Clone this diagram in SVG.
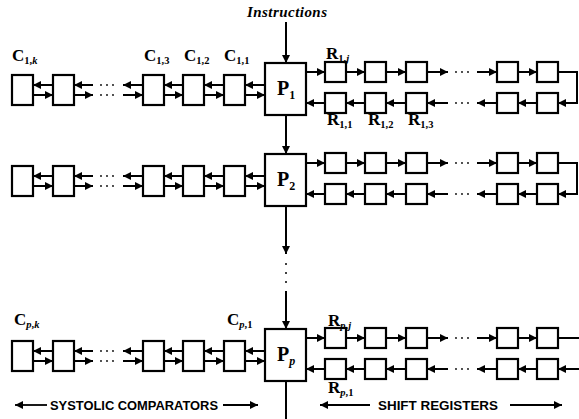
<svg xmlns="http://www.w3.org/2000/svg" width="579" height="419" viewBox="0 0 579 419">
<style>
.box{fill:#fff;stroke:#000;stroke-width:2.2}
.ln{fill:none;stroke:#000;stroke-width:2}
.ar{fill:none;stroke:#000;stroke-width:2;marker-end:url(#ah)}
.ar2{fill:none;stroke:#000;stroke-width:1.8;marker-end:url(#ah2)}
.lbl{font-family:"Liberation Serif","Times New Roman",serif;font-weight:bold;font-size:17px;fill:#000}
.sub{font-size:10.5px}
.pl{font-family:"Liberation Serif","Times New Roman",serif;font-weight:bold;font-size:20px;fill:#000}
.ps{font-size:12px}
.cap{font-family:"Liberation Sans",Arial,sans-serif;font-weight:bold;font-size:12.5px;fill:#000}
.dot{fill:#000}
</style>
<defs>
<marker id="ah" viewBox="0 0 10 10" refX="10" refY="5" markerWidth="9" markerHeight="8" markerUnits="userSpaceOnUse" orient="auto"><path d="M0,0L10,5L0,10z" fill="#000"/></marker>
<marker id="ah2" viewBox="0 0 10 10" refX="10" refY="5" markerWidth="12" markerHeight="8" markerUnits="userSpaceOnUse" orient="auto"><path d="M0,0L10,5L0,10z" fill="#000"/></marker>
</defs>
<rect width="579" height="419" fill="#fff"/>

<text x="247" y="17" font-family="Liberation Serif,serif" font-weight="bold" font-style="italic" font-size="15" textLength="80">Instructions</text>

<!-- Row 1 nodes -->
<g id="P1"><rect class="box" x="265" y="63" width="41" height="52"/><text class="pl" x="277" y="95">P<tspan class="ps" dy="4">1</tspan></text></g>
<g id="C1k"><rect class="box" x="12" y="75" width="21" height="30"/><text class="lbl" x="12" y="61">C<tspan class="sub" dy="3">1,<tspan font-style="italic">k</tspan></tspan></text></g>
<g id="C1k-1"><rect class="box" x="53" y="75" width="21" height="30"/></g>
<g id="C13"><rect class="box" x="143" y="75" width="21" height="30"/><text class="lbl" x="144" y="61">C<tspan class="sub" dy="3">1,3</tspan></text></g>
<g id="C12"><rect class="box" x="183" y="75" width="21" height="30"/><text class="lbl" x="184" y="61">C<tspan class="sub" dy="3">1,2</tspan></text></g>
<g id="C11"><rect class="box" x="224" y="75" width="21" height="30"/><text class="lbl" x="224" y="61">C<tspan class="sub" dy="3">1,1</tspan></text></g>
<g id="R1t1"><rect class="box" x="325" y="62" width="21" height="20"/><text class="lbl" x="326" y="59">R<tspan class="sub" dy="3">1,<tspan font-style="italic">j</tspan></tspan></text></g>
<g id="R1t2"><rect class="box" x="365" y="62" width="21" height="20"/></g>
<g id="R1t3"><rect class="box" x="406" y="62" width="21" height="20"/></g>
<g id="R1t4"><rect class="box" x="497" y="62" width="21" height="20"/></g>
<g id="R1t5"><rect class="box" x="537" y="62" width="21" height="20"/></g>
<g id="R11"><rect class="box" x="325" y="93" width="21" height="20"/><text class="lbl" x="327" y="125">R<tspan class="sub" dy="3">1,1</tspan></text></g>
<g id="R12"><rect class="box" x="365" y="93" width="21" height="20"/><text class="lbl" x="368" y="125">R<tspan class="sub" dy="3">1,2</tspan></text></g>
<g id="R13"><rect class="box" x="406" y="93" width="21" height="20"/><text class="lbl" x="408" y="125">R<tspan class="sub" dy="3">1,3</tspan></text></g>
<g id="R1b4"><rect class="box" x="497" y="93" width="21" height="20"/></g>
<g id="R1b5"><rect class="box" x="537" y="93" width="21" height="20"/></g>

<!-- Row 2 nodes -->
<g id="P2"><rect class="box" x="265" y="154" width="41" height="52"/><text class="pl" x="277" y="186">P<tspan class="ps" dy="4">2</tspan></text></g>
<g id="C2a"><rect class="box" x="12" y="166" width="21" height="30"/></g>
<g id="C2b"><rect class="box" x="53" y="166" width="21" height="30"/></g>
<g id="C2c"><rect class="box" x="143" y="166" width="21" height="30"/></g>
<g id="C2d"><rect class="box" x="183" y="166" width="21" height="30"/></g>
<g id="C2e"><rect class="box" x="224" y="166" width="21" height="30"/></g>
<g id="R2t1"><rect class="box" x="325" y="153" width="21" height="20"/></g>
<g id="R2t2"><rect class="box" x="365" y="153" width="21" height="20"/></g>
<g id="R2t3"><rect class="box" x="406" y="153" width="21" height="20"/></g>
<g id="R2t4"><rect class="box" x="497" y="153" width="21" height="20"/></g>
<g id="R2t5"><rect class="box" x="537" y="153" width="21" height="20"/></g>
<g id="R2b1"><rect class="box" x="325" y="184" width="21" height="20"/></g>
<g id="R2b2"><rect class="box" x="365" y="184" width="21" height="20"/></g>
<g id="R2b3"><rect class="box" x="406" y="184" width="21" height="20"/></g>
<g id="R2b4"><rect class="box" x="497" y="184" width="21" height="20"/></g>
<g id="R2b5"><rect class="box" x="537" y="184" width="21" height="20"/></g>

<!-- Row p nodes -->
<g id="Pp"><rect class="box" x="265" y="329" width="41" height="52"/><text class="pl" x="277" y="361">P<tspan class="ps" dy="4" font-style="italic">p</tspan></text></g>
<g id="Cpk"><rect class="box" x="12" y="341" width="21" height="30"/><text class="lbl" x="14" y="325">C<tspan class="sub" dy="3"><tspan font-style="italic">p</tspan>,<tspan font-style="italic">k</tspan></tspan></text></g>
<g id="Cpb"><rect class="box" x="53" y="341" width="21" height="30"/></g>
<g id="Cpc"><rect class="box" x="143" y="341" width="21" height="30"/></g>
<g id="Cpd"><rect class="box" x="183" y="341" width="21" height="30"/></g>
<g id="Cp1"><rect class="box" x="224" y="341" width="21" height="30"/><text class="lbl" x="227" y="325">C<tspan class="sub" dy="3"><tspan font-style="italic">p</tspan>,1</tspan></text></g>
<g id="Rpt1"><rect class="box" x="325" y="328" width="21" height="20"/><text class="lbl" x="328" y="326">R<tspan class="sub" dy="3"><tspan font-style="italic">p</tspan>,<tspan font-style="italic">j</tspan></tspan></text></g>
<g id="Rpt2"><rect class="box" x="365" y="328" width="21" height="20"/></g>
<g id="Rpt3"><rect class="box" x="406" y="328" width="21" height="20"/></g>
<g id="Rpt4"><rect class="box" x="497" y="328" width="21" height="20"/></g>
<g id="Rpt5"><rect class="box" x="537" y="328" width="21" height="20"/></g>
<g id="Rp1"><rect class="box" x="325" y="359" width="21" height="20"/><text class="lbl" x="328" y="393">R<tspan class="sub" dy="3"><tspan font-style="italic">p</tspan>,1</tspan></text></g>
<g id="Rpb2"><rect class="box" x="365" y="359" width="21" height="20"/></g>
<g id="Rpb3"><rect class="box" x="406" y="359" width="21" height="20"/></g>
<g id="Rpb4"><rect class="box" x="497" y="359" width="21" height="20"/></g>
<g id="Rpb5"><rect class="box" x="537" y="359" width="21" height="20"/></g>

<g id="connectors">
<!-- vertical -->
<path class="ar" d="M286,22L286,63"/>
<path class="ar" d="M286,115L286,154"/>
<path class="ar" d="M286,206L286,254"/>
<circle class="dot" cx="286" cy="264" r="1"/><circle class="dot" cx="286" cy="273" r="1"/><circle class="dot" cx="286" cy="282" r="1"/>
<path class="ar" d="M286,291L286,329"/>
<path class="ln" d="M286,381L286,419"/>

<!-- comparators row 1 -->
<path class="ar" d="M53,85L33,85"/><path class="ar" d="M33,95L53,95"/>
<path class="ar" d="M93,85L74,85"/><path class="ar" d="M74,95L93,95"/>
<path class="ar" d="M143,85L123,85"/><path class="ar" d="M123,95L143,95"/>
<path class="ar" d="M183,85L164,85"/><path class="ar" d="M164,95L183,95"/>
<path class="ar" d="M224,85L204,85"/><path class="ar" d="M204,95L224,95"/>
<path class="ar" d="M265,85L245,85"/><path class="ar" d="M245,95L265,95"/>
<!-- comparators row 2 -->
<path class="ar" d="M53,176L33,176"/><path class="ar" d="M33,186L53,186"/>
<path class="ar" d="M93,176L74,176"/><path class="ar" d="M74,186L93,186"/>
<path class="ar" d="M143,176L123,176"/><path class="ar" d="M123,186L143,186"/>
<path class="ar" d="M183,176L164,176"/><path class="ar" d="M164,186L183,186"/>
<path class="ar" d="M224,176L204,176"/><path class="ar" d="M204,186L224,186"/>
<path class="ar" d="M265,176L245,176"/><path class="ar" d="M245,186L265,186"/>
<!-- comparators row p -->
<path class="ar" d="M53,351L33,351"/><path class="ar" d="M33,361L53,361"/>
<path class="ar" d="M93,351L74,351"/><path class="ar" d="M74,361L93,361"/>
<path class="ar" d="M143,351L123,351"/><path class="ar" d="M123,361L143,361"/>
<path class="ar" d="M183,351L164,351"/><path class="ar" d="M164,361L183,361"/>
<path class="ar" d="M224,351L204,351"/><path class="ar" d="M204,361L224,361"/>
<path class="ar" d="M265,351L245,351"/><path class="ar" d="M245,361L265,361"/>
<!-- comparator dots -->
<g class="dot">
<circle cx="101" cy="85" r="0.9"/><circle cx="107" cy="85" r="0.9"/><circle cx="113" cy="85" r="0.9"/>
<circle cx="101" cy="95" r="0.9"/><circle cx="107" cy="95" r="0.9"/><circle cx="113" cy="95" r="0.9"/>
<circle cx="101" cy="176" r="0.9"/><circle cx="107" cy="176" r="0.9"/><circle cx="113" cy="176" r="0.9"/>
<circle cx="101" cy="186" r="0.9"/><circle cx="107" cy="186" r="0.9"/><circle cx="113" cy="186" r="0.9"/>
<circle cx="101" cy="351" r="0.9"/><circle cx="107" cy="351" r="0.9"/><circle cx="113" cy="351" r="0.9"/>
<circle cx="101" cy="361" r="0.9"/><circle cx="107" cy="361" r="0.9"/><circle cx="113" cy="361" r="0.9"/>
</g>

<!-- registers row 1 -->
<path class="ar" d="M306,72L325,72"/><path class="ar" d="M346,72L365,72"/><path class="ar" d="M386,72L406,72"/>
<path class="ar" d="M427,72L448,72"/><path class="ar" d="M477,72L497,72"/><path class="ar" d="M518,72L537,72"/>
<path class="ar" d="M325,103L306,103"/><path class="ar" d="M365,103L346,103"/><path class="ar" d="M406,103L386,103"/>
<path class="ar" d="M448,103L427,103"/><path class="ar" d="M497,103L477,103"/><path class="ar" d="M537,103L518,103"/>
<path class="ar" d="M558,72L577,72L577,103L558,103"/>
<!-- registers row 2 -->
<path class="ar" d="M306,163L325,163"/><path class="ar" d="M346,163L365,163"/><path class="ar" d="M386,163L406,163"/>
<path class="ar" d="M427,163L448,163"/><path class="ar" d="M477,163L497,163"/><path class="ar" d="M518,163L537,163"/>
<path class="ar" d="M325,194L306,194"/><path class="ar" d="M365,194L346,194"/><path class="ar" d="M406,194L386,194"/>
<path class="ar" d="M448,194L427,194"/><path class="ar" d="M497,194L477,194"/><path class="ar" d="M537,194L518,194"/>
<path class="ar" d="M558,163L577,163L577,194L558,194"/>
<!-- registers row p -->
<path class="ar" d="M306,338L325,338"/><path class="ar" d="M346,338L365,338"/><path class="ar" d="M386,338L406,338"/>
<path class="ar" d="M427,338L448,338"/><path class="ar" d="M477,338L497,338"/><path class="ar" d="M518,338L537,338"/>
<path class="ar" d="M325,369L306,369"/><path class="ar" d="M365,369L346,369"/><path class="ar" d="M406,369L386,369"/>
<path class="ar" d="M448,369L427,369"/><path class="ar" d="M497,369L477,369"/><path class="ar" d="M537,369L518,369"/>
<path class="ln" d="M558,338L579,338"/><path class="ar" d="M579,369L558,369"/>
<!-- register dots -->
<g class="dot">
<circle cx="456" cy="72" r="0.9"/><circle cx="462" cy="72" r="0.9"/><circle cx="468" cy="72" r="0.9"/>
<circle cx="456" cy="103" r="0.9"/><circle cx="462" cy="103" r="0.9"/><circle cx="468" cy="103" r="0.9"/>
<circle cx="456" cy="163" r="0.9"/><circle cx="462" cy="163" r="0.9"/><circle cx="468" cy="163" r="0.9"/>
<circle cx="456" cy="194" r="0.9"/><circle cx="462" cy="194" r="0.9"/><circle cx="468" cy="194" r="0.9"/>
<circle cx="456" cy="338" r="0.9"/><circle cx="462" cy="338" r="0.9"/><circle cx="468" cy="338" r="0.9"/>
<circle cx="456" cy="369" r="0.9"/><circle cx="462" cy="369" r="0.9"/><circle cx="468" cy="369" r="0.9"/>
</g>

<!-- caption arrows -->
<path class="ar2" d="M47,405L15,405"/><path class="ar2" d="M223,405L258,405"/>
<path class="ar2" d="M370,405L320,405"/><path class="ar2" d="M510,405L562,405"/>
</g>

<text class="cap" x="50" y="410" textLength="168" lengthAdjust="spacingAndGlyphs">SYSTOLIC COMPARATORS</text>
<text class="cap" x="378" y="410" textLength="120" lengthAdjust="spacingAndGlyphs">SHIFT REGISTERS</text>
</svg>
